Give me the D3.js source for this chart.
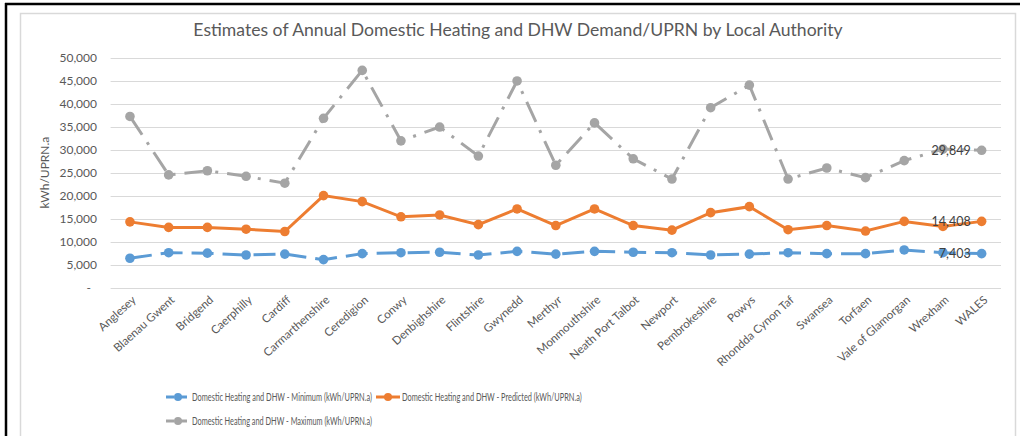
<!DOCTYPE html>
<html>
<head>
<meta charset="utf-8">
<script src="https://cdn.jsdelivr.net/npm/d3@7"></script>
<style>
  body { margin: 0; background: #fff; }
  text { font-family: Lato, "Open Sans", sans-serif; fill: #595959; }
</style>
</head>
<body>
<div id="chart"></div>
<script>
var width = 1020, height = 436;

var authorities = ["Anglesey", "Blaenau Gwent", "Bridgend", "Caerphilly", "Cardiff", "Carmarthenshire",
  "Ceredigion", "Conwy", "Denbighshire", "Flintshire", "Gwynedd", "Merthyr", "Monmouthshire",
  "Neath Port Talbot", "Newport", "Pembrokeshire", "Powys", "Rhondda Cynon Taf", "Swansea",
  "Torfaen", "Vale of Glamorgan", "Wrexham", "WALES"];

var minimum = [6400, 7600, 7500, 7100, 7300, 6100, 7400, 7600, 7700, 7100, 7900, 7300, 7900,
  7700, 7600, 7100, 7300, 7600, 7400, 7400, 8200, 7600, 7403];
var predicted = [14300, 13100, 13100, 12700, 12200, 20000, 18700, 15400, 15800, 13700, 17100, 13500, 17100,
  13500, 12500, 16300, 17600, 12600, 13500, 12300, 14400, 13300, 14408];
var maximum = [37200, 24500, 25400, 24200, 22700, 36800, 47200, 31900, 34900, 28600, 44900, 26600, 35800,
  28000, 23600, 39100, 44000, 23600, 26000, 23900, 27600, 30100, 29849];

var yTicks = [0, 5000, 10000, 15000, 20000, 25000, 30000, 35000, 40000, 45000, 50000];

var series = [
  {name: "Domestic Heating and DHW - Minimum (kWh/UPRN.a)", values: minimum, color: "#5B9BD5", dash: "22,9"},
  {name: "Domestic Heating and DHW - Predicted (kWh/UPRN.a)", values: predicted, color: "#ED7D31", dash: null},
  {name: "Domestic Heating and DHW - Maximum (kWh/UPRN.a)", values: maximum, color: "#A5A5A5", dash: "22,9,3,9"}
];

var svg = d3.select("#chart").append("svg")
  .attr("width", width)
  .attr("height", height);

// frame of the screenshot
svg.append("rect").attr("x", 20.5).attr("y", 13.5).attr("width", 995).attr("height", 440)
  .attr("fill", "none").attr("stroke", "#D9D9D9").attr("stroke-width", 1.5);
svg.append("line").attr("x1", 5).attr("x2", 1020).attr("y1", 4).attr("y2", 4)
  .attr("stroke", "#000").attr("stroke-width", 2.5);
svg.append("line").attr("x1", 6).attr("x2", 6).attr("y1", 3).attr("y2", 436)
  .attr("stroke", "#000").attr("stroke-width", 2.5);

var x = d3.scaleBand().domain(authorities).range([110.6, 1001]);
var y = d3.scaleLinear().domain([0, 50000]).range([287.7, 57.5]);

// gridlines
svg.append("g").selectAll("line").data(yTicks).join("line")
  .attr("x1", 110.6).attr("x2", 1001)
  .attr("y1", function(d){ return Math.round(y(d)) + 0.5; })
  .attr("y2", function(d){ return Math.round(y(d)) + 0.5; })
  .attr("stroke", "#D9D9D9").attr("stroke-width", 1);

// y tick labels
var fmt = d3.format(",");
svg.append("g").selectAll("text").data(yTicks).join("text")
  .attr("x", function(d){ return d === 0 ? 91 : 97; })
  .attr("y", function(d){ return y(d); })
  .attr("dy", "0.35em")
  .attr("text-anchor", "end")
  .style("font-size", "12px")
  .text(function(d){ return d === 0 ? "-" : fmt(d); });

svg.append("text")
  .attr("transform", "translate(49," + y(25000) + ") rotate(-90)")
  .attr("text-anchor", "middle")
  .style("font-size", "12px")
  .text("kWh/UPRN.a");

// x labels
svg.append("g").selectAll("text").data(authorities).join("text")
  .attr("transform", function(d){
    return "translate(" + (x(d) + x.bandwidth() / 2 + 4) + ",298) rotate(-42)";
  })
  .attr("text-anchor", "end")
  .attr("dy", "0.35em")
  .style("font-size", "11.5px")
  .text(function(d){ return d; });

// title
svg.append("text")
  .attr("x", 518).attr("y", 36)
  .attr("text-anchor", "middle")
  .style("font-size", "17.6px")
  .text("Estimates of Annual Domestic Heating and DHW Demand/UPRN by Local Authority");

var line = d3.line()
  .x(function(d, i){ return x(authorities[i]) + x.bandwidth() / 2; })
  .y(function(d){ return y(d); });

// draw max first so it sits underneath
[2, 1, 0].forEach(function(k){
  var s = series[k];
  var g = svg.append("g");
  g.append("path")
    .attr("d", line(s.values))
    .attr("fill", "none")
    .attr("stroke", s.color)
    .attr("stroke-width", 3)
    .attr("stroke-dasharray", s.dash);
  g.selectAll("circle").data(s.values).join("circle")
    .attr("cx", function(d, i){ return x(authorities[i]) + x.bandwidth() / 2; })
    .attr("cy", function(d){ return y(d); })
    .attr("r", 4.8)
    .attr("fill", s.color);
});

// data labels on the WALES points
var last = authorities.length - 1;
series.forEach(function(s){
  svg.append("text")
    .attr("x", x(authorities[last]) + x.bandwidth() / 2 - 11)
    .attr("y", y(s.values[last]))
    .attr("dy", "0.35em")
    .attr("text-anchor", "end")
    .style("font-size", "12.5px")
    .style("fill", "#404040")
    .text(fmt(s.values[last]));
});

// legend
var legendItems = [
  {s: series[0], x: 166, y: 397},
  {s: series[1], x: 376, y: 397},
  {s: series[2], x: 166, y: 421}
];
legendItems.forEach(function(it){
  var g = svg.append("g").attr("transform", "translate(" + it.x + "," + it.y + ")");
  g.append("line").attr("x1", 0).attr("x2", 24).attr("y1", 0).attr("y2", 0)
    .attr("stroke", it.s.color).attr("stroke-width", 3)
    .attr("stroke-dasharray", it.s.dash ? "8,5" : null);
  g.append("circle").attr("cx", 12).attr("cy", 0).attr("r", 4).attr("fill", it.s.color);
  var t = g.append("text").attr("x", 0).attr("y", 0).attr("dy", "0.35em")
    .style("font-size", "11.5px")
    .text(it.s.name);
  var w = t.node().getComputedTextLength();
  t.attr("transform", "translate(26,0) scale(" + (180 / w) + ",1)");
});
</script>
</body>
</html>
